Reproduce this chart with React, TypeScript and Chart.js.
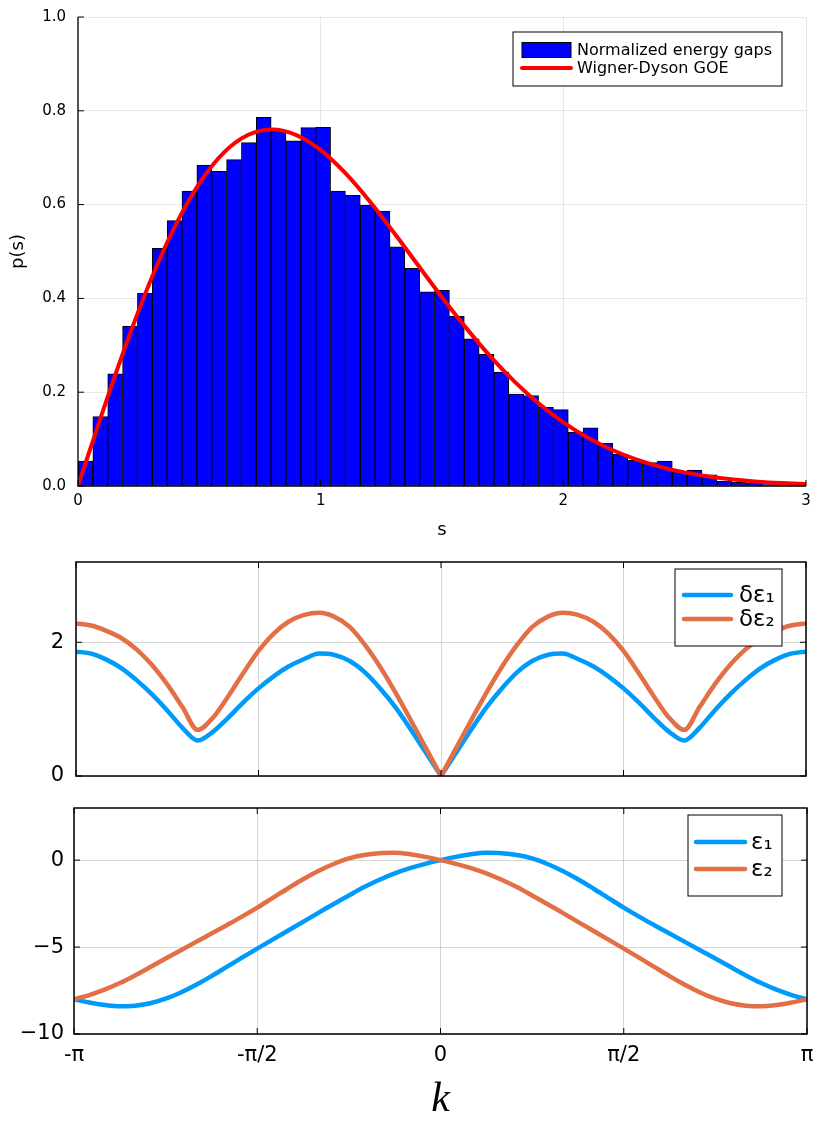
import React, { useEffect, useRef } from "react";
import Chart from "chart.js/auto";

// histogram of normalized gaps, 49 bins over [0, 3]
const sMax = 3;
const binCount = 49;
const gapDensity = [
    0.053, 0.148, 0.239, 0.341, 0.411, 0.507, 0.566, 0.629, 0.684, 0.671,
    0.696, 0.732, 0.786, 0.757, 0.736, 0.764, 0.765, 0.629, 0.620, 0.599,
    0.586, 0.510, 0.464, 0.414, 0.417, 0.362, 0.314, 0.281, 0.243, 0.196,
    0.193, 0.168, 0.163, 0.115, 0.124, 0.091, 0.068, 0.055, 0.050, 0.053,
    0.030, 0.034, 0.024, 0.010, 0.008, 0.006, 0.004, 0.003, 0.002,
];

// Wigner-Dyson GOE curve read at s = 0, 0.1, ..., 3
const goeS = [
    0, 0.1, 0.2, 0.3, 0.4, 0.5, 0.6, 0.7, 0.8, 0.9, 1.0, 1.1, 1.2, 1.3, 1.4, 1.5,
    1.6, 1.7, 1.8, 1.9, 2.0, 2.1, 2.2, 2.3, 2.4, 2.5, 2.6, 2.7, 2.8, 2.9, 3.0,
];
const goeP = [
    0, 0.1559, 0.3044, 0.4391, 0.5541, 0.6454, 0.7104, 0.7483, 0.7602, 0.7483, 0.7162,
    0.6680, 0.6083, 0.5415, 0.4717, 0.4025, 0.3366, 0.2759, 0.2220, 0.1752, 0.1358,
    0.1033, 0.0772, 0.0567, 0.0409, 0.0290, 0.0202, 0.0138, 0.0093, 0.0062, 0.0040,
];

// band plots, k from -pi to pi (index 24 is k = 0)
const kGrid = [
    -3.14159, -3.0107, -2.8798, -2.7489, -2.618, -2.4871, -2.3562, -2.2253, -2.0944, -1.9635,
    -1.8326, -1.7017, -1.5708, -1.4399, -1.309, -1.1781, -1.0472, -0.9163, -0.7854, -0.6545,
    -0.5236, -0.3927, -0.2618, -0.1309, 0,
    0.1309, 0.2618, 0.3927, 0.5236, 0.6545, 0.7854, 0.9163, 1.0472, 1.1781, 1.309,
    1.4399, 1.5708, 1.7017, 1.8326, 1.9635, 2.0944, 2.2253, 2.3562, 2.4871, 2.618,
    2.7489, 2.8798, 3.0107, 3.14159,
];
const dEps1 = [
    1.86, 1.83, 1.74, 1.61, 1.43, 1.22, 0.98, 0.72, 0.53, 0.66, 0.87, 1.10, 1.31, 1.49, 1.64,
    1.75, 1.83, 1.81, 1.72, 1.55, 1.31, 1.03, 0.70, 0.35, 0.00,
    0.35, 0.70, 1.03, 1.31, 1.55, 1.72, 1.81, 1.83, 1.75, 1.64, 1.49, 1.31, 1.10, 0.87, 0.66,
    0.53, 0.72, 0.98, 1.22, 1.43, 1.61, 1.74, 1.83, 1.86,
];
const dEps2 = [
    2.28, 2.25, 2.17, 2.06, 1.89, 1.66, 1.37, 1.03, 0.69, 0.87, 1.19, 1.54, 1.87, 2.13, 2.31,
    2.41, 2.44, 2.38, 2.23, 1.96, 1.63, 1.25, 0.84, 0.42, 0.00,
    0.42, 0.84, 1.25, 1.63, 1.96, 2.23, 2.38, 2.44, 2.41, 2.31, 2.13, 1.87, 1.54, 1.19, 0.87,
    0.69, 1.03, 1.37, 1.66, 1.89, 2.06, 2.17, 2.25, 2.28,
];
const eps1 = [
    -8.00, -8.19, -8.33, -8.41, -8.37, -8.23, -7.97, -7.61, -7.17, -6.67, -6.14, -5.61, -5.09,
    -4.57, -4.06, -3.55, -3.03, -2.52, -2.03, -1.55, -1.13, -0.76, -0.46, -0.21, 0.00,
    0.19, 0.34, 0.42, 0.40, 0.30, 0.10, -0.22, -0.62, -1.10, -1.63, -2.18, -2.73, -3.25,
    -3.74, -4.22, -4.70, -5.18, -5.66, -6.15, -6.63, -7.07, -7.45, -7.76, -8.00,
];
const eps2 = [
    -8.00, -7.76, -7.45, -7.07, -6.63, -6.15, -5.66, -5.18, -4.70, -4.22, -3.74, -3.25, -2.73,
    -2.18, -1.63, -1.10, -0.62, -0.22, 0.10, 0.30, 0.40, 0.42, 0.34, 0.19, 0.00,
    -0.21, -0.46, -0.76, -1.13, -1.55, -2.03, -2.52, -3.03, -3.55, -4.06, -4.57, -5.09, -5.61,
    -6.14, -6.67, -7.17, -7.61, -7.97, -8.23, -8.37, -8.41, -8.33, -8.19, -8.00,
];
const kTicks = [-Math.PI, -Math.PI / 2, 0, Math.PI / 2, Math.PI];
const kTickLabels = ["-π", "-π/2", "0", "π/2", "π"];

const BLUE = "#009afa";
const ORANGE = "#e36f47";
const FONT = "'DejaVu Sans', sans-serif";

Chart.defaults.font.family = FONT;
Chart.defaults.color = "#000";

interface Box {
    left: number;
    top: number;
    right: number;
    bottom: number;
}

// axis frame, inward tick marks and boxed legend
const framePlugin = {
    id: "frame",
    afterDatasetsDraw(chart: any, _args: any, opts: any) {
        const { ctx, chartArea: a, scales } = chart;
        const tl = opts.tickLen || 6;
        ctx.save();
        ctx.strokeStyle = "#000";
        ctx.lineWidth = opts.lineWidth || 1.3;
        ctx.beginPath();
        if (opts.box) {
            ctx.rect(a.left, a.top, a.right - a.left, a.bottom - a.top);
        } else {
            ctx.moveTo(a.left, a.top);
            ctx.lineTo(a.left, a.bottom);
            ctx.lineTo(a.right, a.bottom);
        }
        ctx.stroke();

        ctx.lineWidth = 1;
        ctx.beginPath();
        scales.x.ticks.forEach((t: any) => {
            const p = scales.x.getPixelForValue(t.value);
            ctx.moveTo(p, a.bottom);
            ctx.lineTo(p, a.bottom - tl);
            if (opts.box) {
                ctx.moveTo(p, a.top);
                ctx.lineTo(p, a.top + tl);
            }
        });
        scales.y.ticks.forEach((t: any) => {
            const p = scales.y.getPixelForValue(t.value);
            ctx.moveTo(a.left, p);
            ctx.lineTo(a.left + tl, p);
            if (opts.box) {
                ctx.moveTo(a.right, p);
                ctx.lineTo(a.right - tl, p);
            }
        });
        ctx.stroke();

        const lg = opts.legend;
        if (lg) {
            ctx.fillStyle = "#fff";
            ctx.fillRect(lg.left, lg.top, lg.width, lg.height);
            ctx.strokeStyle = "#000";
            ctx.lineWidth = 1;
            ctx.strokeRect(lg.left, lg.top, lg.width, lg.height);
            ctx.font = `${lg.fontSize}px ${FONT}`;
            ctx.textAlign = "left";
            ctx.textBaseline = "middle";
            const shown = chart.data.datasets.filter((ds: any) => !ds.noLegend);
            shown.forEach((ds: any, i: number) => {
                const y = lg.rows[i];
                if (ds.type === "bar") {
                    ctx.fillStyle = ds.backgroundColor;
                    ctx.fillRect(lg.x0, y - lg.patchH / 2, lg.x1 - lg.x0, lg.patchH);
                    ctx.strokeStyle = "#000";
                    ctx.lineWidth = 1;
                    ctx.strokeRect(lg.x0, y - lg.patchH / 2, lg.x1 - lg.x0, lg.patchH);
                } else {
                    ctx.strokeStyle = ds.borderColor;
                    ctx.lineWidth = ds.borderWidth;
                    ctx.lineCap = "round";
                    ctx.beginPath();
                    ctx.moveTo(lg.x0, y);
                    ctx.lineTo(lg.x1, y);
                    ctx.stroke();
                }
                ctx.fillStyle = "#000";
                ctx.fillText(ds.label, lg.textX, y + 1);
            });
        }
        ctx.restore();
    },
};

function bandSeries(ys: number[], from = 0, to = kGrid.length - 1) {
    const pts = [];
    for (let i = from; i <= to; i++) pts.push({ x: kGrid[i], y: ys[i] });
    return pts;
}

function lineSet(label: string, color: string, data: any[], order: number, noLegend = false) {
    return {
        type: "line",
        label,
        data,
        noLegend,
        order,
        borderColor: color,
        borderWidth: 4.5,
        pointRadius: 0,
        cubicInterpolationMode: "monotone",
        fill: false,
    };
}

// sizes of the axis boxes, tuned after the first layout so the plot area lands on target
interface Dims {
    top: number;
    right: number;
    xh: number;
    yw: number;
}

// drop the label overhang Chart.js reserves, the frame is placed by hand
function noOverhang(s: any) {
    s.paddingTop = 0;
    s.paddingBottom = 0;
    s.paddingLeft = 0;
    s.paddingRight = 0;
}

function kAxis(showLabels: boolean, dims: Dims) {
    return {
        type: "linear",
        min: -Math.PI,
        max: Math.PI,
        afterBuildTicks: (s: any) => {
            s.ticks = kTicks.map((v) => ({ value: v }));
        },
        afterFit: (s: any) => {
            s.height = dims.xh;
            noOverhang(s);
        },
        ticks: {
            display: showLabels,
            padding: 9,
            font: { size: 21 },
            maxRotation: 0,
            autoSkip: false,
            callback: (_v: any, i: number) => kTickLabels[i],
        },
        grid: { color: "rgba(0,0,0,0.16)", drawTicks: false },
        border: { display: false },
        title: {
            display: showLabels,
            text: "k",
            font: { size: 42, family: "'Liberation Serif', 'DejaVu Serif', serif", style: "italic" },
            padding: { top: 0, bottom: 2 },
        },
    };
}

function useChart(build: (d: Dims) => any, target: Box, start: Dims) {
    const ref = useRef<HTMLCanvasElement>(null);
    useEffect(() => {
        const dims = { ...start };
        const chart: any = new Chart(ref.current!, build(dims));
        for (let i = 0; i < 4; i++) {
            const a = chart.chartArea;
            const dt = target.top - a.top;
            const db = a.bottom - target.bottom;
            const dl = target.left - a.left;
            const dr = a.right - target.right;
            if (Math.abs(dt) + Math.abs(db) + Math.abs(dl) + Math.abs(dr) < 0.3) break;
            dims.top += dt;
            dims.xh += db;
            dims.yw += dl;
            dims.right += dr;
            chart.config.options.layout.padding = { top: dims.top, right: dims.right, left: 0, bottom: 0 };
            chart.update();
        }
        return () => {
            chart.destroy();
        };
    }, []);
    return ref;
}

function histogramConfig(dims: Dims): any {
    const binWidth = sMax / binCount;
    return {
        type: "bar",
        data: {
            datasets: [
                {
                    type: "bar",
                    label: "Normalized energy gaps",
                    data: gapDensity.map((y, i) => ({ x: (i + 0.5) * binWidth, y })),
                    backgroundColor: "#0000ff",
                    borderColor: "#000",
                    borderWidth: 1,
                    borderSkipped: false,
                    barPercentage: 1,
                    categoryPercentage: 1,
                    order: 2,
                },
                {
                    type: "line",
                    label: "Wigner-Dyson GOE",
                    data: goeS.map((x, i) => ({ x, y: goeP[i] })),
                    borderColor: "#ff0000",
                    borderWidth: 4,
                    pointRadius: 0,
                    cubicInterpolationMode: "monotone",
                    order: 1,
                },
            ],
        },
        plugins: [framePlugin],
        options: {
            animation: false,
            responsive: false,
            layout: { padding: { top: dims.top, right: dims.right, left: 0, bottom: 0 } },
            plugins: {
                legend: { display: false },
                tooltip: { enabled: false },
                frame: {
                    box: false,
                    lineWidth: 1.3,
                    tickLen: 6,
                    legend: {
                        left: 513, top: 32, width: 269, height: 54, fontSize: 16,
                        rows: [50, 68], x0: 522, x1: 571, patchH: 15, textX: 577,
                    },
                },
            },
            scales: {
                x: {
                    type: "linear",
                    min: 0,
                    max: sMax,
                    offset: false,
                    afterFit: (s: any) => {
                        s.height = dims.xh;
                        noOverhang(s);
                    },
                    ticks: { stepSize: 1, padding: 6, font: { size: 15 }, maxRotation: 0 },
                    grid: { color: "rgba(0,0,0,0.09)", drawTicks: false, offset: false },
                    border: { display: false },
                    title: { display: true, text: "s", font: { size: 18 }, padding: { top: 0, bottom: 4 } },
                },
                y: {
                    min: 0,
                    max: 1,
                    afterFit: (s: any) => {
                        s.width = dims.yw;
                        noOverhang(s);
                    },
                    ticks: {
                        stepSize: 0.2,
                        padding: 12,
                        font: { size: 15 },
                        callback: (v: number) => v.toFixed(1),
                    },
                    grid: { color: "rgba(0,0,0,0.09)", drawTicks: false },
                    border: { display: false },
                    title: { display: true, text: "p(s)", font: { size: 18 }, padding: { top: 8, bottom: 0 } },
                },
            },
        },
    };
}

function gapConfig(dims: Dims): any {
    // each curve is drawn as two halves so the cusp at k = 0 stays sharp
    return {
        type: "line",
        data: {
            datasets: [
                lineSet("δε₁", BLUE, bandSeries(dEps1, 0, 24), 1),
                lineSet("δε₂", ORANGE, bandSeries(dEps2, 0, 24), 0),
                lineSet("δε₁", BLUE, bandSeries(dEps1, 24), 1, true),
                lineSet("δε₂", ORANGE, bandSeries(dEps2, 24), 0, true),
            ],
        },
        plugins: [framePlugin],
        options: {
            animation: false,
            responsive: false,
            layout: { padding: { top: dims.top, right: dims.right, left: 0, bottom: 0 } },
            plugins: {
                legend: { display: false },
                tooltip: { enabled: false },
                frame: {
                    box: true,
                    lineWidth: 1.5,
                    tickLen: 6,
                    legend: {
                        left: 675, top: 24, width: 107, height: 77, fontSize: 23,
                        rows: [50, 74], x0: 684, x1: 731, textX: 739,
                    },
                },
            },
            scales: {
                x: kAxis(false, dims),
                y: {
                    min: 0,
                    max: 3.2,
                    afterFit: (s: any) => {
                        s.width = dims.yw;
                        noOverhang(s);
                    },
                    ticks: { stepSize: 2, includeBounds: false, padding: 12, font: { size: 21 } },
                    grid: { color: "rgba(0,0,0,0.16)", drawTicks: false },
                    border: { display: false },
                },
            },
        },
    };
}

function bandConfig(dims: Dims): any {
    return {
        type: "line",
        data: {
            datasets: [
                lineSet("ε₁", BLUE, bandSeries(eps1), 1),
                lineSet("ε₂", ORANGE, bandSeries(eps2), 0),
            ],
        },
        plugins: [framePlugin],
        options: {
            animation: false,
            responsive: false,
            layout: { padding: { top: dims.top, right: dims.right, left: 0, bottom: 0 } },
            plugins: {
                legend: { display: false },
                tooltip: { enabled: false },
                frame: {
                    box: true,
                    lineWidth: 1.5,
                    tickLen: 6,
                    legend: {
                        left: 688, top: 25, width: 94, height: 81, fontSize: 23,
                        rows: [52, 79], x0: 696, x1: 745, textX: 751,
                    },
                },
            },
            scales: {
                x: kAxis(true, dims),
                y: {
                    min: -10,
                    max: 3,
                    afterFit: (s: any) => {
                        s.width = dims.yw;
                        noOverhang(s);
                    },
                    ticks: {
                        stepSize: 5,
                        includeBounds: false,
                        padding: 10,
                        font: { size: 21 },
                        callback: (v: number) => (v < 0 ? "\u2212" + Math.abs(v) : String(v)),
                    },
                    grid: { color: "rgba(0,0,0,0.16)", drawTicks: false },
                    border: { display: false },
                },
            },
        },
    };
}

export default function App() {
    const top = useChart(histogramConfig, { left: 78, top: 17, right: 806, bottom: 486 }, { top: 17, right: 16, xh: 59, yw: 78 });
    const mid = useChart(gapConfig, { left: 76, top: 17, right: 806, bottom: 231 }, { top: 17, right: 16, xh: 14, yw: 76 });
    const bottom = useChart(bandConfig, { left: 74, top: 18, right: 807, bottom: 244 }, { top: 18, right: 15, xh: 93, yw: 74 });

    return (
        <div style={{ position: "absolute", left: 0, top: 0, width: 822, height: 1127, background: "#fff" }}>
            <canvas ref={top} width={822} height={545} style={{ position: "absolute", left: 0, top: 0 }} />
            <canvas ref={mid} width={822} height={245} style={{ position: "absolute", left: 0, top: 545 }} />
            <canvas ref={bottom} width={822} height={337} style={{ position: "absolute", left: 0, top: 790 }} />
        </div>
    );
}
